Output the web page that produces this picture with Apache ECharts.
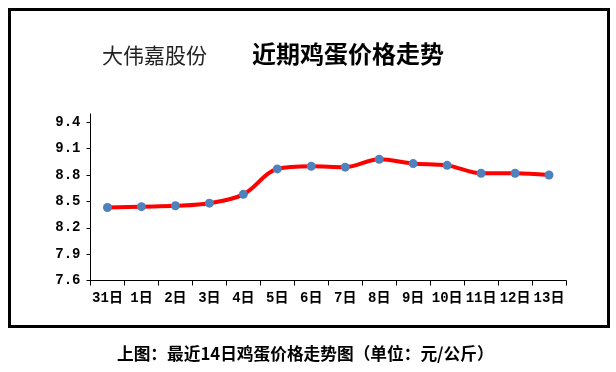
<!DOCTYPE html>
<html><head><meta charset="utf-8">
<script src="https://cdn.jsdelivr.net/npm/echarts@6/dist/echarts.min.js"></script>
<style>html,body{margin:0;padding:0;background:#fff}#c{width:616px;height:372px}</style>
</head><body><div id="c"></div>
<script>
const categories = ['31日','1日','2日','3日','4日','5日','6日','7日','8日','9日','10日','11日','12日','13日'];
const prices = [8.43, 8.44, 8.45, 8.48, 8.58, 8.87, 8.90, 8.89, 8.98, 8.93, 8.91, 8.82, 8.82, 8.80];
const yTicks = [7.6, 7.9, 8.2, 8.5, 8.8, 9.1, 9.4];
const brand = '大伟嘉股份';
const title = '近期鸡蛋价格走势';
const caption = '上图：最近14日鸡蛋价格走势图（单位：元/公斤）';

const chart = echarts.init(document.getElementById('c'), null, {renderer:'canvas'});
const numFont = '"Liberation Mono", "Noto Sans CJK SC", monospace';
chart.setOption({
  animation: false,
  backgroundColor: '#fff',
  title: [
    {text: brand, left: 102, top: 45, padding: 0, textStyle: {fontFamily: '"Noto Sans CJK SC"', fontSize: 21, fontWeight: 'normal', color: '#222'}},
    {text: title, left: 252, top: 42, padding: 0, textStyle: {fontFamily: '"Noto Sans CJK SC"', fontSize: 24, fontWeight: 'bold', color: '#000'}},
    {text: caption, left: 117, top: 345, padding: 0, textStyle: {fontFamily: '"Noto Sans CJK SC"', fontSize: 16.7, fontWeight: 'bold', color: '#000'}}
  ],
  graphic: [{type: 'rect', shape: {x: 9.5, y: 9.5, width: 599, height: 317}, style: {fill: 'none', stroke: '#000', lineWidth: 3}, silent: true}],
  grid: {left: 90.5, right: 50, top: 114, bottom: 91.5},
  xAxis: {
    type: 'category', data: categories, boundaryGap: true,
    axisLine: {lineStyle: {color: '#000', width: 1}},
    axisTick: {show: true, length: 5, alignWithLabel: false, lineStyle: {color: '#000'}},
    axisLabel: {interval: 0, margin: 11, color: '#000', fontFamily: numFont, fontSize: 14, fontWeight: 'bold'}
  },
  yAxis: {
    type: 'value', min: 7.6, max: 9.4945, interval: 0.3,
    splitLine: {show: false},
    axisLine: {show: true, lineStyle: {color: '#000', width: 1}},
    axisTick: {show: true, length: 4, lineStyle: {color: '#000'}, customValues: yTicks},
    axisLabel: {margin: 10, color: '#000', fontFamily: numFont, fontSize: 14, fontWeight: 'bold', customValues: yTicks,
      formatter: v => v.toFixed(1)}
  },
  series: [{
    type: 'line', data: prices, smooth: 0.35,
    lineStyle: {color: '#ff0000', width: 4},
    symbol: 'circle', symbolSize: 9,
    itemStyle: {color: '#4f81bd'},
    z: 3
  }]
});
</script></body></html>
